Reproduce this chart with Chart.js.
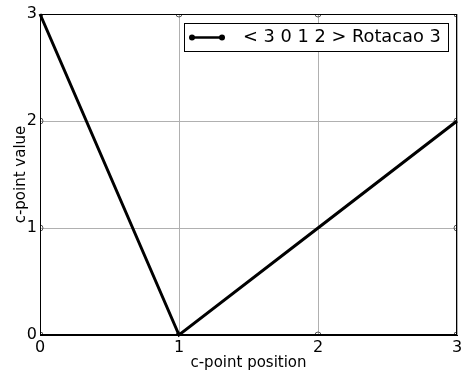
<!DOCTYPE html>
<html>
<head>
<meta charset="utf-8">
<script src="https://cdn.jsdelivr.net/npm/chart.js@4/dist/chart.umd.min.js"></script>
<style>
  html, body { margin: 0; padding: 0; background: #fff; }
  #wrap { width: 462px; height: 376px; }
</style>
</head>
<body>
<div id="wrap"><canvas id="chart"></canvas></div>
<script>
// Data
const positions = [0, 1, 2, 3];
const values = [3, 0, 1, 2];
const seriesLabel = "< 3 0 1 2 > Rotacao 3";
const xTicks = [0, 1, 2, 3];
const yTicks = [0, 1, 2, 3];

const FONT = "'DejaVu Sans', sans-serif";

// black frame around the plot area (top/right edges included)
const frame = {
  id: "frame",
  afterDatasetsDraw(chart) {
    const { ctx, chartArea: a } = chart;
    ctx.save();
    ctx.strokeStyle = "#000";
    ctx.lineWidth = 1;
    ctx.strokeRect(Math.round(a.left) + 0.5, Math.round(a.top) + 0.5,
      Math.round(a.right - a.left) - 1, Math.round(a.bottom - a.top) - 1);
    ctx.restore();
  }
};

// little circle tick markers on every edge, clipped to the plot area
const tickMarks = {
  id: "tickMarks",
  beforeDatasetsDraw(chart) {
    const { ctx, chartArea: a, scales } = chart;
    ctx.save();
    ctx.beginPath();
    ctx.rect(a.left, a.top, a.right - a.left, a.bottom - a.top);
    ctx.clip();
    ctx.strokeStyle = "#555";
    ctx.lineWidth = 1;
    const mark = (x, y) => {
      ctx.beginPath();
      ctx.arc(x, y, 3, 0, Math.PI * 2);
      ctx.stroke();
    };
    xTicks.forEach(v => {
      const x = scales.x.getPixelForValue(v);
      mark(x, a.top);
      mark(x, a.bottom);
    });
    yTicks.forEach(v => {
      const y = scales.y.getPixelForValue(v);
      mark(a.left, y);
      mark(a.right, y);
    });
    ctx.restore();
  }
};

// boxed legend in the upper right corner
const boxLegend = {
  id: "boxLegend",
  afterDraw(chart) {
    const { ctx, chartArea: a } = chart;
    const ds = chart.data.datasets[0];
    ctx.save();
    ctx.font = "17.8px " + FONT;
    const tw = ctx.measureText(ds.label).width;
    const right = Math.round(a.right - 9), top = Math.round(a.top + 9), h = 28;
    const left = Math.round(right - (8 + 30 + 21 + tw + 7));
    ctx.fillStyle = "#fff";
    ctx.fillRect(left, top, right - left, h);
    ctx.strokeStyle = "#000";
    ctx.lineWidth = 1;
    ctx.strokeRect(left + 0.5, top + 0.5, right - left, h);

    const ly = top + h / 2 + 0.5;
    ctx.lineWidth = 2.5;
    ctx.beginPath();
    ctx.moveTo(left + 8, ly);
    ctx.lineTo(left + 38, ly);
    ctx.stroke();
    ctx.fillStyle = "#000";
    [left + 8, left + 38].forEach(x => {
      ctx.beginPath();
      ctx.arc(x, ly, 3, 0, Math.PI * 2);
      ctx.fill();
    });

    ctx.textBaseline = "middle";
    ctx.fillText(ds.label, left + 59, ly);
    ctx.restore();
  }
};

new Chart(document.getElementById("chart"), {
  type: "line",
  data: {
    datasets: [{
      label: seriesLabel,
      data: positions.map((p, i) => ({ x: p, y: values[i] })),
      borderColor: "#000",
      borderWidth: 3,
      pointRadius: 0,
      tension: 0,
      clip: false
    }]
  },
  options: {
    responsive: true,
    maintainAspectRatio: false,
    animation: false,
    layout: { padding: { top: 14, right: 5, left: 0, bottom: 0 } },
    plugins: { legend: { display: false }, tooltip: { enabled: false } },
    scales: {
      x: {
        type: "linear",
        min: 0,
        max: 3,
        afterBuildTicks: s => { s.ticks = xTicks.map(v => ({ value: v })); },
        afterFit: s => { s.height = 41; s.paddingLeft = 0; s.paddingRight = 0; },
        ticks: { color: "#000", padding: 3, font: { family: FONT, size: 16 } },
        grid: { color: "#b0b0b0", lineWidth: 1, drawTicks: false },
        border: { color: "#000", width: 1 },
        title: {
          display: true,
          text: "c-point position",
          color: "#000",
          font: { family: FONT, size: 15 },
          padding: { top: 0, bottom: 4 }
        }
      },
      y: {
        type: "linear",
        min: 0,
        max: 3,
        afterBuildTicks: s => { s.ticks = yTicks.map(v => ({ value: v })); },
        afterFit: s => { s.width = 40; s.paddingTop = 0; s.paddingBottom = 0; },
        ticks: { color: "#000", padding: 3, font: { family: FONT, size: 16 } },
        grid: { color: "#b0b0b0", lineWidth: 1, drawTicks: false },
        border: { color: "#000", width: 1 },
        title: {
          display: true,
          text: "c-point value",
          color: "#000",
          font: { family: FONT, size: 15 },
          padding: { top: 12, bottom: 0 }
        }
      }
    }
  },
  plugins: [tickMarks, frame, boxLegend]
});
</script>
</body>
</html>
